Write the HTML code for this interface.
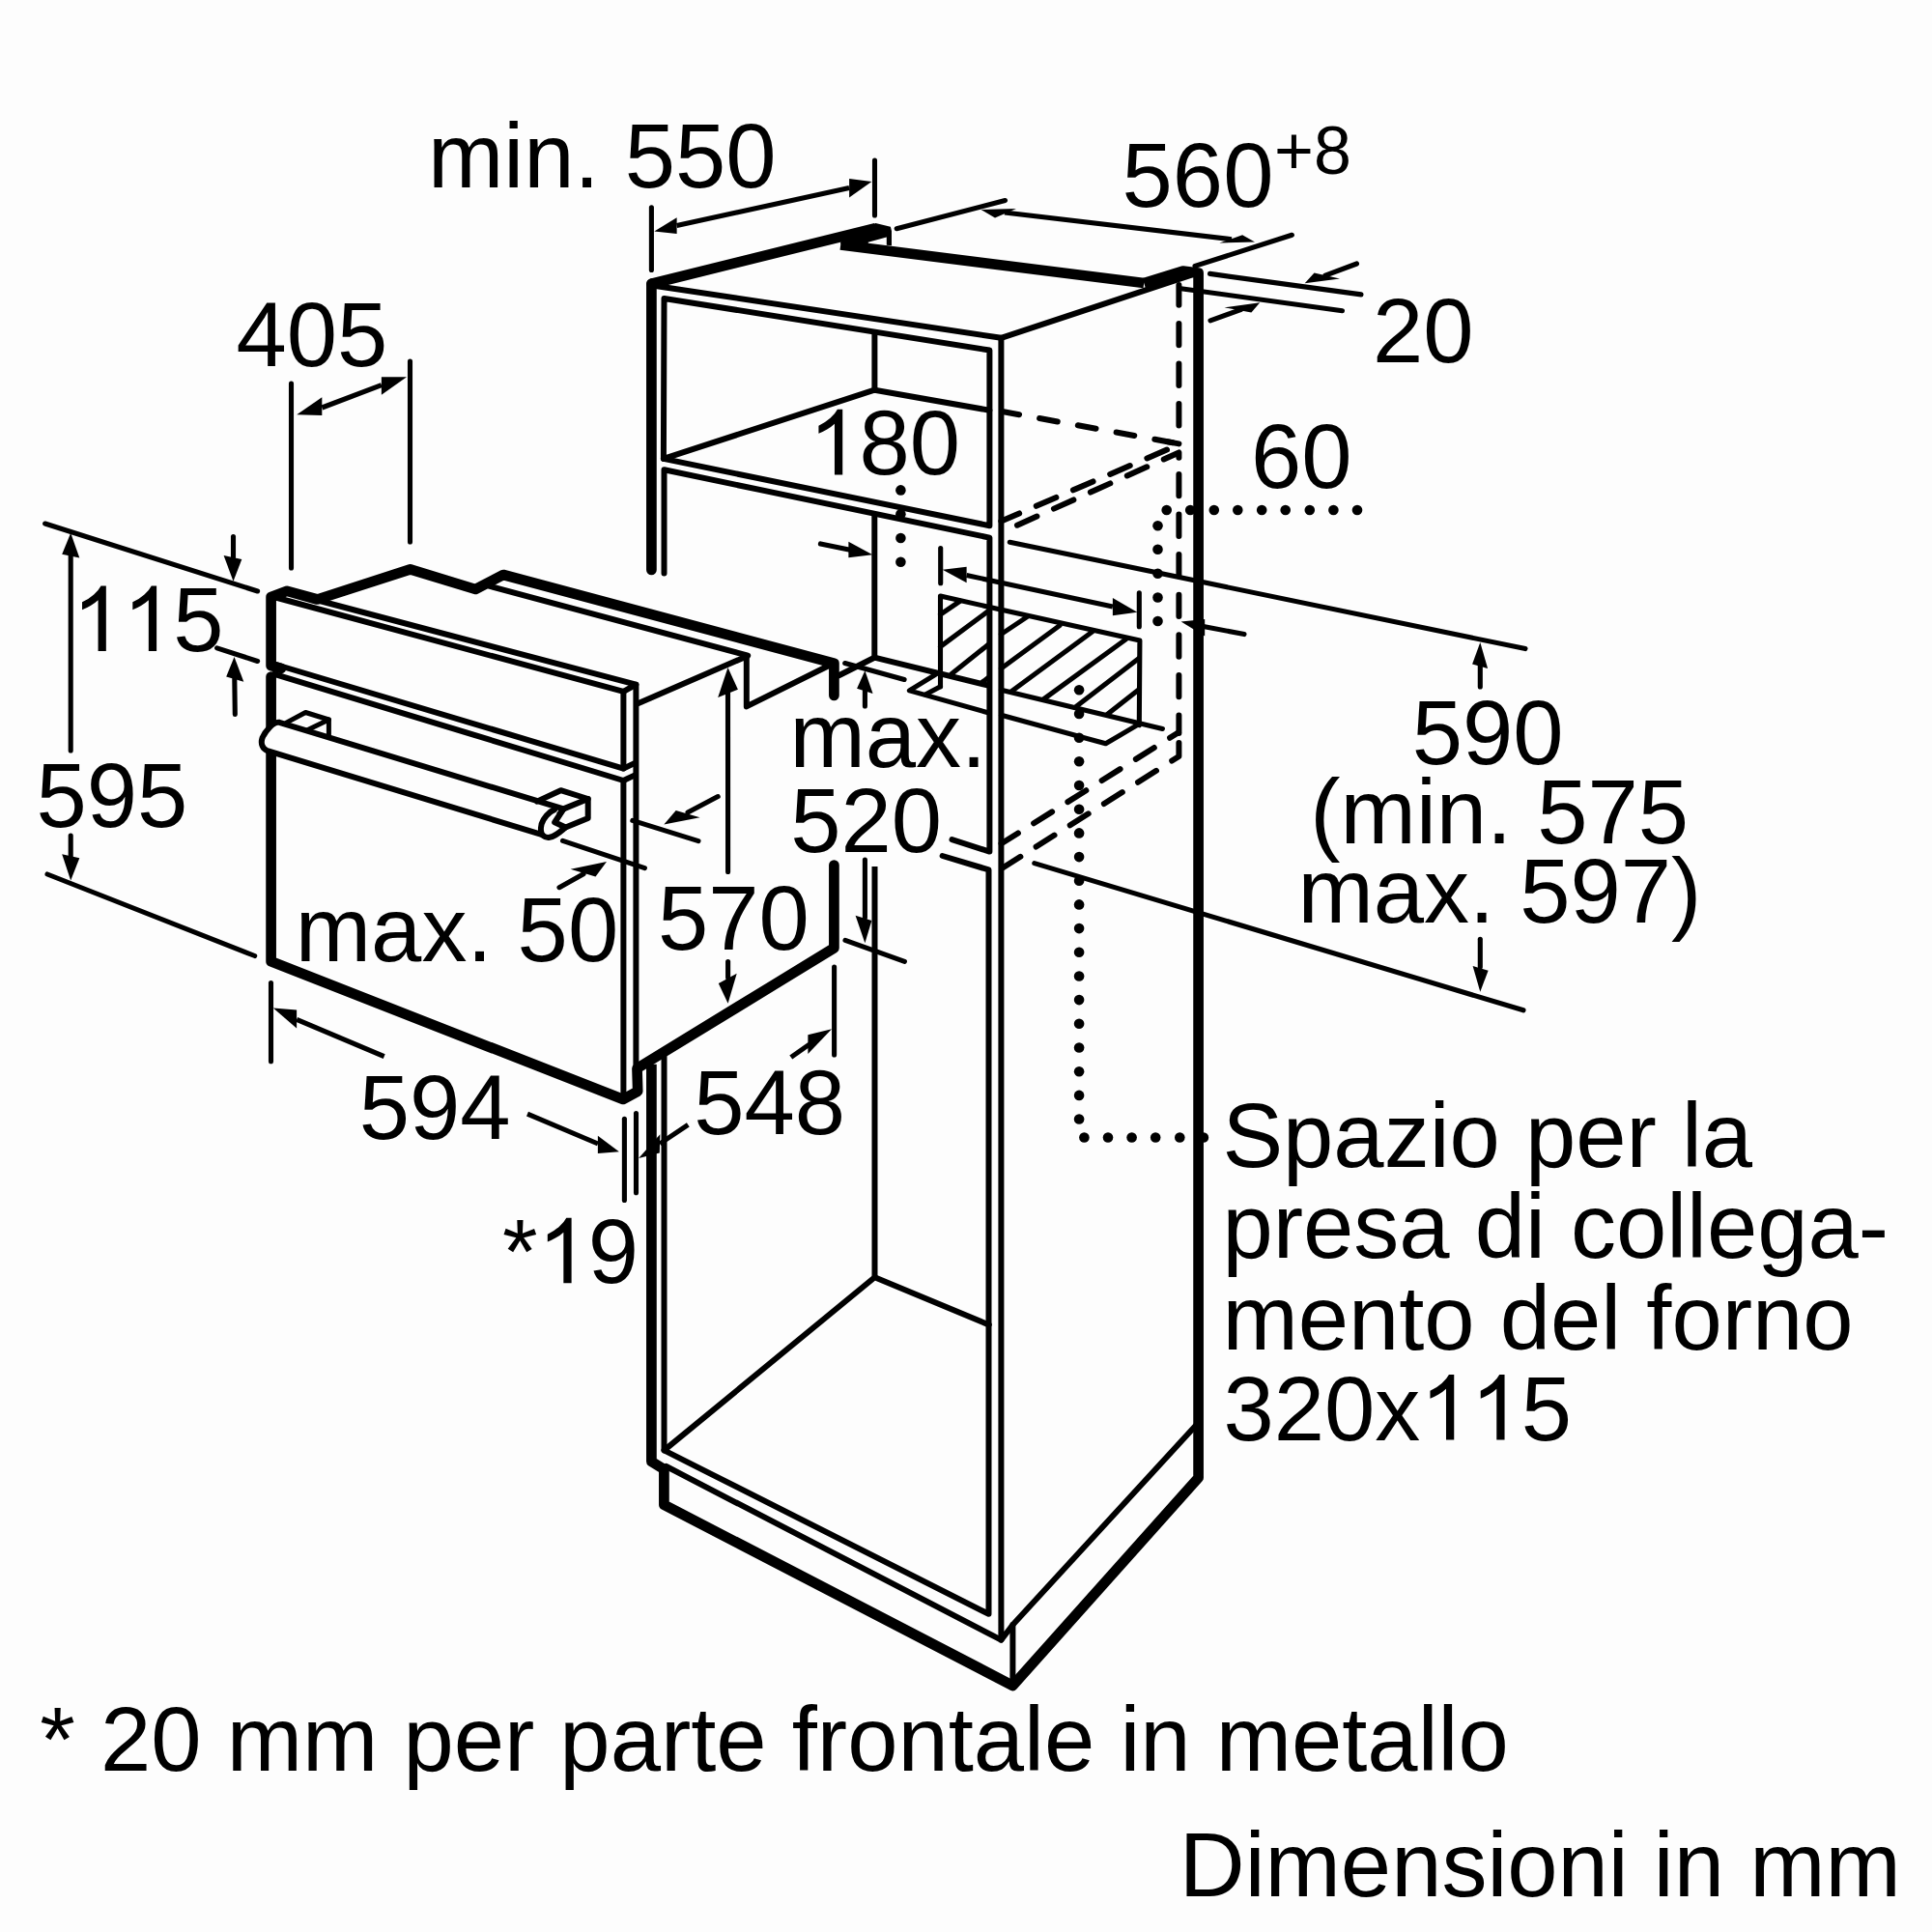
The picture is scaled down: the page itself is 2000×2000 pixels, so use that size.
<!DOCTYPE html>
<html><head><meta charset="utf-8"><title>Dimensioni in mm</title>
<style>
html,body{margin:0;padding:0;background:#fdfdfd;}
body{width:2000px;height:2000px;overflow:hidden;}
svg{display:block;font-family:"Liberation Sans",sans-serif;font-kerning:none;}
text{white-space:pre;}
</style></head><body>
<svg width="2000" height="2000" viewBox="0 0 2000 2000">
<rect width="2000" height="2000" fill="#fdfdfd"/>
<g stroke="#000" fill="none">
<polyline points="674.4,590.0 674.4,293.7" stroke-width="10.7" stroke-linecap="round" stroke-linejoin="round" />
<polyline points="674.4,293.7 906.4,236.2" stroke-width="10.7" stroke-linecap="butt" stroke-linejoin="round" />
<circle cx="674.4" cy="293.7" r="5" fill="#000" stroke="none"/>
<polygon points="870.2,252.5 870.2,250.7 906.4,231.1 921.9,234.7 923.0,239.3 923.0,254.3 917.8,253.8 917.8,245.5 898.7,250.7 899.0,254.0" fill="#000" stroke="none" />
<polyline points="870.2,253.5 1184.2,293.0" stroke-width="10.7" stroke-linecap="butt" stroke-linejoin="round" />
<polyline points="1184.2,293.0 1224.5,280.6 1240.6,282.5 1240.6,1529.8 1048.4,1744.9 687.4,1557.7 687.4,1521.0 674.4,1513.0 674.4,1101.8" stroke-width="10.7" stroke-linecap="butt" stroke-linejoin="round" />
<polyline points="678.6,296.0 1036.4,349.8 1236.5,283.6" stroke-width="6.0" stroke-linecap="round" stroke-linejoin="round" />
<polyline points="1036.4,349.8 1036.4,1697.7 1048.4,1682.0 1238.0,1475.5" stroke-width="6.0" stroke-linecap="round" stroke-linejoin="round" />
<polyline points="1048.4,1682.0 1048.4,1742.0" stroke-width="6.0" stroke-linecap="round" stroke-linejoin="round" />
<polyline points="1036.4,1697.7 689.7,1518.0" stroke-width="6.0" stroke-linecap="round" stroke-linejoin="round" />
<polyline points="686.9,474.9 687.5,309.0 1024.4,362.5 1024.4,544.2 686.9,474.9" stroke-width="6.0" stroke-linecap="round" stroke-linejoin="round" />
<polyline points="686.9,474.9 905.4,403.7 1024.4,424.8" stroke-width="6.0" stroke-linecap="round" stroke-linejoin="round" />
<polyline points="905.4,345.0 905.4,403.7" stroke-width="6.0" stroke-linecap="round" stroke-linejoin="round" />
<polyline points="687.5,593.5 687.5,486.3 1024.4,556.6 1024.4,881.6 985.5,869.1" stroke-width="6.0" stroke-linecap="round" stroke-linejoin="round" />
<polyline points="975.6,886.0 1023.5,900.4 1023.5,1670.8 687.5,1501.4 687.5,1094.0" stroke-width="6.0" stroke-linecap="round" stroke-linejoin="round" />
<polyline points="905.3,533.9 905.3,680.7" stroke-width="6.0" stroke-linecap="round" stroke-linejoin="round" />
<polyline points="868.4,699.3 905.2,680.7 1023.2,709.7" stroke-width="6.0" stroke-linecap="round" stroke-linejoin="round" />
<polyline points="905.5,897.0 905.5,1322.2" stroke-width="6.0" stroke-linecap="butt" stroke-linejoin="round" />
<polyline points="687.5,1501.4 905.5,1322.2 1023.8,1371.4" stroke-width="6.0" stroke-linecap="round" stroke-linejoin="round" />
<polyline points="973.5,710.8 973.5,617.1 1179.9,663.0 1179.3,750.7" stroke-width="5.1" stroke-linecap="round" stroke-linejoin="round" />
<polyline points="1036.4,714.2 1203.4,754.5" stroke-width="5.1" stroke-linecap="round" stroke-linejoin="round" />
<polyline points="973.5,636.2 993.7,622.3" stroke-width="5.1" stroke-linecap="round" stroke-linejoin="round" />
<polyline points="973.5,669.4 1023.7,632.1" stroke-width="5.1" stroke-linecap="round" stroke-linejoin="round" />
<polyline points="984.9,697.8 1023.7,666.8" stroke-width="5.1" stroke-linecap="round" stroke-linejoin="round" />
<polyline points="1017.0,706.1 1023.7,700.9" stroke-width="5.1" stroke-linecap="round" stroke-linejoin="round" />
<polyline points="1036.4,656.5 1063.4,638.5" stroke-width="5.1" stroke-linecap="round" stroke-linejoin="round" />
<polyline points="1036.4,692.0 1097.0,647.5" stroke-width="5.1" stroke-linecap="round" stroke-linejoin="round" />
<polyline points="1046.6,716.0 1130.7,654.0" stroke-width="5.1" stroke-linecap="round" stroke-linejoin="round" />
<polyline points="1080.2,723.9 1165.6,661.7" stroke-width="5.1" stroke-linecap="round" stroke-linejoin="round" />
<polyline points="1113.9,731.6 1179.3,681.2" stroke-width="5.1" stroke-linecap="round" stroke-linejoin="round" />
<polyline points="1146.2,739.4 1179.3,713.5" stroke-width="5.1" stroke-linecap="round" stroke-linejoin="round" />
<polyline points="968.3,698.3 941.4,714.9 1023.6,738.0" stroke-width="5.1" stroke-linecap="round" stroke-linejoin="round" />
<polyline points="958.0,719.0 973.5,710.8" stroke-width="5.1" stroke-linecap="round" stroke-linejoin="round" />
<polyline points="1036.4,740.3 1144.6,769.8 1178.5,749.9" stroke-width="5.1" stroke-linecap="round" stroke-linejoin="round" />
<polyline points="1220.4,295.1 1220.4,457.0" stroke-width="6.0" stroke-linecap="round" stroke-linejoin="round" stroke-dasharray="22.4 19.2" stroke-dashoffset="1.8"/>
<polyline points="1220.4,490.9 1220.4,759.0" stroke-width="6.0" stroke-linecap="round" stroke-linejoin="round" stroke-dasharray="22.4 19.2"/>
<polyline points="1038.9,426.3 1220.7,459.4" stroke-width="6.0" stroke-linecap="round" stroke-linejoin="round" stroke-dasharray="19 21.4" stroke-dashoffset="2.6"/>
<polyline points="1208.0,457.1 1220.4,459.4" stroke-width="6.0" stroke-linecap="round" stroke-linejoin="round" />
<polyline points="1036.4,539.5 1211.3,464.1" stroke-width="6.0" stroke-linecap="round" stroke-linejoin="round" stroke-dasharray="22.4 19.2" stroke-dashoffset="2"/>
<polyline points="1053.0,543.7 1220.4,468.4 1220.4,474.0" stroke-width="6.0" stroke-linecap="round" stroke-linejoin="round" stroke-dasharray="22.4 19.2" stroke-dashoffset="0"/>
<polyline points="1036.6,873.3 1220.0,758.2" stroke-width="6.0" stroke-linecap="round" stroke-linejoin="round" stroke-dasharray="22.4 19.2" stroke-dashoffset="2"/>
<polyline points="1036.6,899.3 1220.4,783.0 1220.4,765.6" stroke-width="6.0" stroke-linecap="round" stroke-linejoin="round" stroke-dasharray="22.4 19.2" stroke-dashoffset="-1"/>
<circle cx="1207.7" cy="528.0" r="5.3" fill="#000" stroke="none"/>
<circle cx="1232.2" cy="528.0" r="5.3" fill="#000" stroke="none"/>
<circle cx="1256.8" cy="528.0" r="5.3" fill="#000" stroke="none"/>
<circle cx="1281.3" cy="528.0" r="5.3" fill="#000" stroke="none"/>
<circle cx="1306.2" cy="528.0" r="5.3" fill="#000" stroke="none"/>
<circle cx="1330.7" cy="528.0" r="5.3" fill="#000" stroke="none"/>
<circle cx="1355.8" cy="528.0" r="5.3" fill="#000" stroke="none"/>
<circle cx="1380.4" cy="528.0" r="5.3" fill="#000" stroke="none"/>
<circle cx="1405.0" cy="528.0" r="5.3" fill="#000" stroke="none"/>
<circle cx="1198.5" cy="544.2" r="5.3" fill="#000" stroke="none"/>
<circle cx="1198.5" cy="568.7" r="5.3" fill="#000" stroke="none"/>
<circle cx="1198.5" cy="593.7" r="5.3" fill="#000" stroke="none"/>
<circle cx="1198.5" cy="618.5" r="5.3" fill="#000" stroke="none"/>
<circle cx="1198.5" cy="643.0" r="5.3" fill="#000" stroke="none"/>
<circle cx="932.4" cy="507.4" r="5.3" fill="#000" stroke="none"/>
<circle cx="932.4" cy="532.2" r="5.3" fill="#000" stroke="none"/>
<circle cx="932.4" cy="557.0" r="5.3" fill="#000" stroke="none"/>
<circle cx="932.4" cy="581.8" r="5.3" fill="#000" stroke="none"/>
<circle cx="1117.1" cy="714.3" r="5.3" fill="#000" stroke="none"/>
<circle cx="1117.1" cy="739.0" r="5.3" fill="#000" stroke="none"/>
<circle cx="1117.1" cy="763.7" r="5.3" fill="#000" stroke="none"/>
<circle cx="1117.1" cy="788.3" r="5.3" fill="#000" stroke="none"/>
<circle cx="1117.1" cy="813.0" r="5.3" fill="#000" stroke="none"/>
<circle cx="1117.1" cy="837.7" r="5.3" fill="#000" stroke="none"/>
<circle cx="1117.1" cy="862.4" r="5.3" fill="#000" stroke="none"/>
<circle cx="1117.1" cy="887.1" r="5.3" fill="#000" stroke="none"/>
<circle cx="1117.1" cy="911.7" r="5.3" fill="#000" stroke="none"/>
<circle cx="1117.1" cy="936.4" r="5.3" fill="#000" stroke="none"/>
<circle cx="1117.1" cy="961.1" r="5.3" fill="#000" stroke="none"/>
<circle cx="1117.1" cy="985.8" r="5.3" fill="#000" stroke="none"/>
<circle cx="1117.1" cy="1010.5" r="5.3" fill="#000" stroke="none"/>
<circle cx="1117.1" cy="1035.1" r="5.3" fill="#000" stroke="none"/>
<circle cx="1117.1" cy="1059.8" r="5.3" fill="#000" stroke="none"/>
<circle cx="1117.1" cy="1084.5" r="5.3" fill="#000" stroke="none"/>
<circle cx="1117.1" cy="1109.2" r="5.3" fill="#000" stroke="none"/>
<circle cx="1117.1" cy="1133.9" r="5.3" fill="#000" stroke="none"/>
<circle cx="1117.1" cy="1158.5" r="5.3" fill="#000" stroke="none"/>
<circle cx="1122.4" cy="1177.5" r="5.3" fill="#000" stroke="none"/>
<circle cx="1147.0" cy="1177.5" r="5.3" fill="#000" stroke="none"/>
<circle cx="1171.6" cy="1177.5" r="5.3" fill="#000" stroke="none"/>
<circle cx="1196.2" cy="1177.5" r="5.3" fill="#000" stroke="none"/>
<circle cx="1221.3" cy="1177.5" r="5.3" fill="#000" stroke="none"/>
<circle cx="1245.9" cy="1177.5" r="5.3" fill="#000" stroke="none"/>
<polyline points="291.0,691.8 280.6,689.0 280.6,618.0 297.2,611.8 328.5,620.5 424.7,589.3 492.2,610.0 521.0,595.0 863.4,686.6 863.4,720.0" stroke-width="10.7" stroke-linecap="round" stroke-linejoin="round" />
<polyline points="280.6,700.5 280.6,995.3 645.0,1138.0 660.2,1129.8 659.5,1106.0 863.4,981.4 863.4,895.5" stroke-width="10.7" stroke-linecap="round" stroke-linejoin="round" />
<polyline points="285.4,618.5 645.4,715.9" stroke-width="6.0" stroke-linecap="round" stroke-linejoin="round" />
<polyline points="331.0,622.0 658.4,708.7 645.4,715.9" stroke-width="6.0" stroke-linecap="round" stroke-linejoin="round" />
<polyline points="506.2,606.6 774.2,678.6" stroke-width="6.0" stroke-linecap="round" stroke-linejoin="round" />
<polyline points="660.4,728.3 772.8,679.5 772.8,731.4 858.1,689.0" stroke-width="6.0" stroke-linecap="round" stroke-linejoin="round" />
<polyline points="658.4,708.7 658.4,1106.0" stroke-width="6.0" stroke-linecap="round" stroke-linejoin="round" />
<polyline points="645.4,715.9 645.4,795.6" stroke-width="6.0" stroke-linecap="round" stroke-linejoin="round" />
<polyline points="645.4,808.0 645.4,1138.0" stroke-width="6.0" stroke-linecap="round" stroke-linejoin="round" />
<polyline points="284.0,687.5 645.4,795.6 656.2,790.4" stroke-width="6.0" stroke-linecap="round" stroke-linejoin="round" />
<polyline points="284.0,697.8 645.4,808.0 656.2,802.9" stroke-width="6.0" stroke-linecap="round" stroke-linejoin="round" />
<polyline points="296.4,748.1 316.3,737.5 340.4,745.0 318.7,755.6" stroke-width="5" stroke-linecap="round" stroke-linejoin="round" />
<polyline points="340.4,745.0 340.4,764.2" stroke-width="5" stroke-linecap="round" stroke-linejoin="round" />
<path d="M 583.3,837.4 L 289.2,747.8 C 283,746.5 274.5,757 271.5,764 C 269.5,770 272,775.5 276.7,777.1 L 563,864.6 Z" stroke-width="6.0" stroke-linecap="round" stroke-linejoin="round" fill="#fdfdfd" />
<polyline points="555.9,829.6 580.5,818.2 608.7,827.0 583.3,837.4" stroke-width="6.0" stroke-linecap="round" stroke-linejoin="round" />
<polyline points="608.7,827.0 608.7,846.9 584.9,856.8" stroke-width="6.0" stroke-linecap="round" stroke-linejoin="round" />
<path d="M 574,838.1 C 568,840.5 562.5,847 560.6,853 C 559.3,858.5 560,863 562.3,865 C 564.3,866.8 566.5,867.2 569,866.8 C 575,866 580,861 584.9,856.8" stroke-width="6.0" stroke-linecap="round" stroke-linejoin="round" fill="#fdfdfd" />
<polyline points="583.3,837.4 574.3,851.2 584.9,856.3" stroke-width="6.2" stroke-linecap="round" stroke-linejoin="round" />
<polyline points="46.6,542.0 266.6,612.0" stroke-width="5.1" stroke-linecap="round" stroke-linejoin="round" />
<polyline points="49.0,905.0 263.7,989.5" stroke-width="5.1" stroke-linecap="round" stroke-linejoin="round" />
<polyline points="73.2,575.0 73.2,777.0" stroke-width="5.1" stroke-linecap="round" stroke-linejoin="round" />
<polygon points="73.2,551.8 64.2,573.8 82.3,577.6" fill="#000" stroke="none" />
<polyline points="73.2,865.0 73.2,887.0" stroke-width="5.1" stroke-linecap="round" stroke-linejoin="round" />
<polygon points="73.2,911.5 64.2,884.3 82.3,888.2" fill="#000" stroke="none" />
<polyline points="241.5,555.6 241.5,577.0" stroke-width="5.1" stroke-linecap="round" stroke-linejoin="round" />
<polygon points="241.5,601.7 231.6,575.0 250.3,579.0" fill="#000" stroke="none" />
<polyline points="224.6,670.8 266.6,684.5" stroke-width="5.1" stroke-linecap="round" stroke-linejoin="round" />
<polyline points="242.8,703.0 243.3,739.4" stroke-width="5.1" stroke-linecap="round" stroke-linejoin="round" />
<polygon points="242.5,680.0 234.2,700.6 252.3,705.7" fill="#000" stroke="none" />
<polyline points="301.5,397.0 301.5,588.0" stroke-width="5.1" stroke-linecap="round" stroke-linejoin="round" />
<polyline points="424.5,374.0 424.5,561.0" stroke-width="5.1" stroke-linecap="round" stroke-linejoin="round" />
<polyline points="333.3,422.0 394.9,398.6" stroke-width="5.1" stroke-linecap="butt" stroke-linejoin="round" />
<polygon points="307.2,429.3 333.3,411.2 333.3,430.0" fill="#000" stroke="none" />
<polygon points="421.0,390.2 394.9,390.2 394.9,408.7" fill="#000" stroke="none" />
<polyline points="674.4,214.8 674.4,279.5" stroke-width="5.1" stroke-linecap="round" stroke-linejoin="round" />
<polyline points="905.5,166.0 905.5,223.0" stroke-width="5.1" stroke-linecap="round" stroke-linejoin="round" />
<polyline points="700.6,233.5 879.1,194.5" stroke-width="5.1" stroke-linecap="butt" stroke-linejoin="round" />
<polygon points="677.3,239.6 700.6,225.2 700.6,242.0" fill="#000" stroke="none" />
<polygon points="902.4,188.1 879.1,185.0 879.1,204.5" fill="#000" stroke="none" />
<polyline points="928.2,236.7 1040.5,207.5" stroke-width="5.1" stroke-linecap="round" stroke-linejoin="round" />
<polyline points="1237.0,275.4 1337.4,243.3" stroke-width="5.1" stroke-linecap="round" stroke-linejoin="round" />
<polyline points="1040.0,220.0 1275.0,247.7" stroke-width="5.1" stroke-linecap="butt" stroke-linejoin="round" />
<polygon points="1015.6,217.1 1052.0,216.0 1030.0,225.5" fill="#000" stroke="none" />
<polygon points="1299.0,250.5 1286.1,243.3 1262.3,251.6" fill="#000" stroke="none" />
<polyline points="1252.5,283.4 1409.0,304.9" stroke-width="5.1" stroke-linecap="round" stroke-linejoin="round" />
<polyline points="1222.5,298.7 1389.5,321.7" stroke-width="5.1" stroke-linecap="round" stroke-linejoin="round" />
<polyline points="1404.5,273.0 1372.0,285.2" stroke-width="5.1" stroke-linecap="round" stroke-linejoin="round" />
<polygon points="1350.7,293.2 1360.5,282.5 1387.0,288.5" fill="#000" stroke="none" />
<polyline points="1253.0,331.8 1285.0,320.3" stroke-width="5.1" stroke-linecap="round" stroke-linejoin="round" />
<polygon points="1304.2,313.2 1267.5,318.3 1295.4,323.5" fill="#000" stroke="none" />
<polyline points="849.4,562.9 880.0,569.3" stroke-width="5.1" stroke-linecap="round" stroke-linejoin="round" />
<polygon points="903.3,574.2 878.4,560.8 878.4,577.3" fill="#000" stroke="none" />
<polyline points="973.7,567.6 973.7,603.7" stroke-width="5.1" stroke-linecap="round" stroke-linejoin="round" />
<polyline points="1179.3,613.9 1179.3,648.8" stroke-width="5.1" stroke-linecap="round" stroke-linejoin="round" />
<polyline points="1000.6,595.5 1151.9,628.0" stroke-width="5.1" stroke-linecap="butt" stroke-linejoin="round" />
<polygon points="975.7,589.8 1000.6,586.7 1000.6,603.2" fill="#000" stroke="none" />
<polygon points="1177.3,633.8 1151.9,619.0 1151.9,637.2" fill="#000" stroke="none" />
<polyline points="1247.0,648.7 1288.0,656.6" stroke-width="5.1" stroke-linecap="round" stroke-linejoin="round" />
<polygon points="1222.6,643.6 1247.2,641.0 1247.2,658.4" fill="#000" stroke="none" />
<polyline points="1045.3,561.3 1579.0,671.6" stroke-width="5.1" stroke-linecap="round" stroke-linejoin="round" />
<polyline points="1070.8,893.6 1577.0,1045.8" stroke-width="5.1" stroke-linecap="round" stroke-linejoin="round" />
<polyline points="1532.3,689.0 1532.3,711.0" stroke-width="5.1" stroke-linecap="round" stroke-linejoin="round" />
<polygon points="1532.3,664.9 1524.1,687.6 1540.1,692.0" fill="#000" stroke="none" />
<polyline points="1532.3,972.3 1532.3,1001.0" stroke-width="5.1" stroke-linecap="round" stroke-linejoin="round" />
<polygon points="1532.3,1026.7 1524.6,1000.0 1540.6,1004.7" fill="#000" stroke="none" />
<polyline points="874.7,686.5 936.1,703.5" stroke-width="5.1" stroke-linecap="round" stroke-linejoin="round" />
<polyline points="875.0,973.3 936.4,995.3" stroke-width="5.1" stroke-linecap="round" stroke-linejoin="round" />
<polyline points="895.4,715.0 895.4,731.0" stroke-width="5.1" stroke-linecap="round" stroke-linejoin="round" />
<polygon points="895.4,694.2 887.1,712.8 903.6,718.0" fill="#000" stroke="none" />
<polyline points="895.4,890.0 895.4,950.0" stroke-width="5.1" stroke-linecap="round" stroke-linejoin="round" />
<polygon points="895.4,976.2 885.6,947.7 902.4,952.9" fill="#000" stroke="none" />
<polyline points="753.5,716.0 753.6,902.5" stroke-width="5.1" stroke-linecap="round" stroke-linejoin="round" />
<polygon points="753.5,691.0 743.2,722.0 763.9,713.8" fill="#000" stroke="none" />
<polyline points="753.6,995.5 753.6,1012.0" stroke-width="5.1" stroke-linecap="round" stroke-linejoin="round" />
<polygon points="753.6,1038.8 743.8,1018.1 762.7,1007.8" fill="#000" stroke="none" />
<polyline points="654.8,849.4 723.0,870.6" stroke-width="5.1" stroke-linecap="round" stroke-linejoin="round" />
<polyline points="582.5,870.3 667.4,898.6" stroke-width="5.1" stroke-linecap="round" stroke-linejoin="round" />
<polyline points="743.2,824.6 712.0,841.0" stroke-width="5.1" stroke-linecap="round" stroke-linejoin="round" />
<polygon points="687.3,853.6 699.7,839.1 724.6,846.3" fill="#000" stroke="none" />
<polyline points="579.0,918.7 604.0,904.8" stroke-width="5.1" stroke-linecap="round" stroke-linejoin="round" />
<polygon points="628.0,892.0 590.6,899.8 616.5,907.6" fill="#000" stroke="none" />
<polyline points="280.5,1017.5 280.5,1098.8" stroke-width="5.1" stroke-linecap="round" stroke-linejoin="round" />
<polyline points="307.1,1055.3 397.7,1093.6" stroke-width="5.1" stroke-linecap="butt" stroke-linejoin="round" />
<polygon points="282.8,1043.4 307.1,1045.4 307.1,1064.6" fill="#000" stroke="none" />
<polyline points="546.0,1153.2 619.0,1184.0" stroke-width="5.1" stroke-linecap="butt" stroke-linejoin="round" />
<polygon points="640.9,1192.3 618.9,1175.8 618.9,1193.9" fill="#000" stroke="none" />
<polyline points="646.4,1158.2 646.4,1242.4" stroke-width="5.1" stroke-linecap="round" stroke-linejoin="round" />
<polyline points="658.5,1152.5 658.5,1234.7" stroke-width="5.1" stroke-linecap="round" stroke-linejoin="round" />
<polyline points="863.6,1001.0 863.6,1092.0" stroke-width="5.1" stroke-linecap="round" stroke-linejoin="round" />
<polyline points="818.8,1094.5 838.0,1081.0" stroke-width="5.1" stroke-linecap="butt" stroke-linejoin="round" />
<polygon points="861.0,1065.2 836.4,1071.2 836.4,1091.1" fill="#000" stroke="none" />
<polyline points="712.3,1164.4 683.0,1184.0" stroke-width="5.1" stroke-linecap="butt" stroke-linejoin="round" />
<polygon points="661.1,1199.0 683.3,1174.2 682.8,1193.4" fill="#000" stroke="none" />
</g>
<g fill="#000" stroke="none">
<text x="443.00" y="194.0" font-size="94">min. 550</text>
<text x="1161.60" y="214.0" font-size="94">560</text>
<text x="1319.00" y="179.5" font-size="70">+8</text>
<text x="244.40" y="379.0" font-size="94">405</text>
<text x="1420.90" y="375.0" font-size="94">20</text>
<path transform="translate(837.20,491.4) scale(0.04590,-0.04590)" d="M763 0H583V1147Q518 1085 412.5 1023Q307 961 223 930V1104Q374 1175 487 1276Q600 1377 647 1472H763Z"/>
<text x="889.48" y="491.4" font-size="94">80</text>
<text x="1295.00" y="504.5" font-size="94">60</text>
<path transform="translate(74.80,674.0) scale(0.04590,-0.04590)" d="M763 0H583V1147Q518 1085 412.5 1023Q307 961 223 930V1104Q374 1175 487 1276Q600 1377 647 1472H763Z"/>
<path transform="translate(127.08,674.0) scale(0.04590,-0.04590)" d="M763 0H583V1147Q518 1085 412.5 1023Q307 961 223 930V1104Q374 1175 487 1276Q600 1377 647 1472H763Z"/>
<text x="179.36" y="674.0" font-size="94">5</text>
<text x="37.40" y="856.0" font-size="94">595</text>
<text x="817.50" y="793.7" font-size="94">max.</text>
<text x="818.20" y="882.0" font-size="94">520</text>
<text x="305.80" y="994.7" font-size="94">max. 50</text>
<text x="681.00" y="982.5" font-size="94">570</text>
<text x="1461.80" y="790.6" font-size="94">590</text>
<text x="1356.30" y="872.7" font-size="94">(min. 575</text>
<text x="1343.40" y="954.7" font-size="94">max. 597)</text>
<text x="371.80" y="1179.0" font-size="94">594</text>
<text x="718.20" y="1174.0" font-size="94">548</text>
<text x="520.00" y="1328.3" font-size="94">*</text>
<path transform="translate(556.58,1328.3) scale(0.04590,-0.04590)" d="M763 0H583V1147Q518 1085 412.5 1023Q307 961 223 930V1104Q374 1175 487 1276Q600 1377 647 1472H763Z"/>
<text x="608.86" y="1328.3" font-size="94">9</text>
<text x="1265.40" y="1207.8" font-size="94">Spazio per la</text>
<text x="1265.40" y="1302.1" font-size="94">presa di collega-</text>
<text x="1265.40" y="1396.6" font-size="94">mento del forno</text>
<text x="1266.40" y="1490.5" font-size="94">320x</text>
<path transform="translate(1470.23,1490.5) scale(0.04590,-0.04590)" d="M763 0H583V1147Q518 1085 412.5 1023Q307 961 223 930V1104Q374 1175 487 1276Q600 1377 647 1472H763Z"/>
<path transform="translate(1522.51,1490.5) scale(0.04590,-0.04590)" d="M763 0H583V1147Q518 1085 412.5 1023Q307 961 223 930V1104Q374 1175 487 1276Q600 1377 647 1472H763Z"/>
<text x="1574.79" y="1490.5" font-size="94">5</text>
<text x="41.30" y="1833.0" font-size="94">* 20 mm per parte frontale in metallo</text>
<text x="1220.80" y="1962.7" font-size="94">Dimensioni in mm</text>
</g>
</svg>
</body></html>
